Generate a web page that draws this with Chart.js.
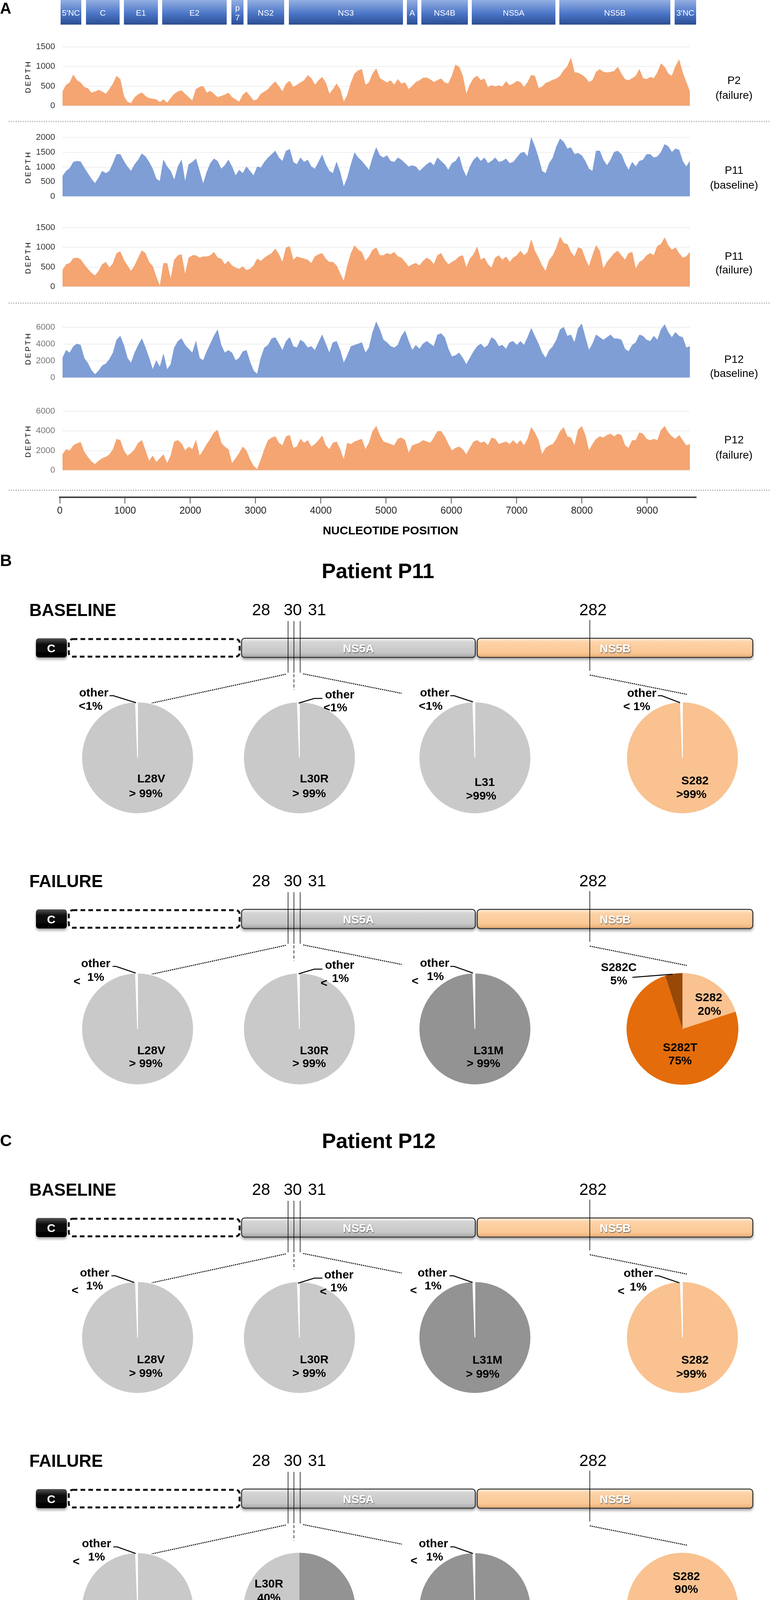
<!DOCTYPE html>
<html>
<head>
<meta charset="utf-8">
<script src="https://cdn.jsdelivr.net/npm/chart.js@4.4.1/dist/chart.umd.min.js"></script>
<style>
  html, body { margin: 0; padding: 0; background: #fff; }
  #page { position: relative; width: 1970px; height: 5124px; overflow: hidden; }
  #page canvas { position: absolute; }
  #overlay { position: absolute; left: 0; top: 0; z-index: 2; font-family: "Liberation Sans", Arial, sans-serif; }
</style>
</head>
<body>
<div id="page">
  <svg id="overlay" width="1970" height="5124" xmlns="http://www.w3.org/2000/svg"></svg>
</div>
<script>
// ---------- coverage data (nucleotide position -> read depth) ----------
const positions = [
  40,95,150,205,260,315,370,425,480,535,
  590,645,700,755,810,865,920,975,1030,1085,
  1140,1195,1250,1305,1360,1415,1470,1525,1580,1635,
  1690,1745,1800,1855,1910,1965,2020,2075,2130,2185,
  2240,2295,2350,2405,2460,2515,2570,2625,2680,2735,
  2790,2845,2900,2955,3010,3065,3120,3175,3230,3285,
  3340,3395,3450,3505,3560,3615,3670,3725,3780,3835,
  3890,3945,4000,4055,4110,4165,4220,4275,4330,4385,
  4440,4495,4550,4605,4660,4715,4770,4825,4880,4935,
  4990,5045,5100,5155,5210,5265,5320,5375,5430,5485,
  5540,5595,5650,5705,5760,5815,5870,5925,5980,6035,
  6090,6145,6200,6255,6310,6365,6420,6475,6530,6585,
  6640,6695,6750,6805,6860,6915,6970,7025,7080,7135,
  7190,7245,7300,7355,7410,7465,7520,7575,7630,7685,
  7740,7795,7850,7905,7960,8015,8070,8125,8180,8235,
  8290,8345,8400,8455,8510,8565,8620,8675,8730,8785,
  8840,8895,8950,9005,9060,9115,9170,9225,9280,9335,
  9390,9445,9500,9555,9610
];

const depthP2Failure = [
  360,530,590,790,645,590,475,445,330,360,
  400,360,300,420,560,760,675,245,100,60,
  215,290,335,245,190,175,160,90,160,75,
  190,300,360,390,300,215,130,420,475,500,
  330,375,300,215,245,280,330,215,160,100,
  275,360,245,130,160,300,360,420,530,615,
  500,360,560,630,475,530,590,645,775,700,
  530,645,730,590,300,420,560,420,100,275,
  590,815,900,930,530,590,815,945,700,645,
  590,645,530,675,560,590,420,500,600,645,
  710,715,670,600,650,690,590,560,760,1045,
  990,760,300,540,700,760,650,690,470,520,
  490,515,490,620,520,560,630,600,470,600,
  780,760,450,480,580,610,660,690,760,900,
  1000,1215,850,835,790,720,600,650,860,930,
  860,845,860,880,990,815,675,645,700,760,
  930,700,675,730,700,845,1075,990,815,760,
  1000,1175,845,600,360
];

const depthP11Baseline = [
  690,860,955,1165,1200,1180,975,785,595,440,
  630,860,785,860,1125,1430,1430,1200,1010,860,
  1085,1240,1450,1355,1165,935,595,515,1240,1010,
  860,555,1010,1240,500,1085,1165,1280,860,420,
  820,1125,1280,1200,935,1050,1240,1010,705,895,
  785,1010,860,705,1010,975,1165,1315,1430,1545,
  1315,1200,1545,1600,1165,1085,1315,1165,1240,1010,
  935,1165,1410,1085,860,785,1165,820,325,630,
  1085,1485,1315,1200,1050,895,1315,1660,1390,1315,
  1390,1200,1165,1315,1240,1125,1010,1050,1010,860,
  975,1085,1165,1050,1315,1200,1085,895,1125,1200,
  1370,935,670,1010,1240,1355,1200,1315,1125,1200,
  1315,1165,1200,1280,1125,1165,1315,1470,1505,1355,
  2000,1695,1315,860,785,1125,1315,1695,1960,1850,
  1620,1660,1430,1470,1390,1200,935,860,1545,1545,
  1240,1050,1240,1505,1545,1430,1125,895,1165,1010,
  1200,1240,1430,1430,1315,1355,1505,1770,1695,1505,
  1620,1580,1200,1010,1200
];

const depthP11Failure = [
  420,565,595,720,735,695,565,450,350,280,
  395,565,625,480,595,850,895,680,535,395,
  535,735,920,850,625,520,250,10,595,595,
  195,680,795,820,310,735,795,795,735,765,
  765,795,880,735,710,565,650,535,480,450,
  510,420,450,535,710,650,735,795,850,965,
  820,625,995,1025,680,765,735,710,680,595,
  765,820,850,710,625,625,535,335,135,535,
  850,1050,935,880,650,765,935,995,795,795,
  850,820,880,765,735,625,510,565,595,535,
  650,735,680,565,795,850,680,565,625,680,
  765,795,480,710,820,1010,680,735,565,480,
  735,795,680,765,625,735,795,910,795,880,
  1195,910,735,535,395,680,795,995,1265,1110,
  1080,880,765,995,965,710,510,795,1050,910,
  450,625,735,850,910,795,680,850,880,450,
  625,680,795,850,795,1035,1080,1250,1050,935,
  995,850,735,765,880
];

const depthP12Baseline = [
  2340,3260,2955,3720,4025,3870,2340,1730,890,380,
  810,1425,1655,2190,2955,4485,4945,3870,2340,1730,
  2955,3870,4640,3565,2340,965,2035,1270,2800,965,
  1575,3565,4330,4640,3870,3410,2955,4330,2340,2035,
  3105,4025,4945,5710,3870,2955,3260,2955,2035,2340,
  3105,3260,1880,810,430,2340,3565,3870,4640,4790,
  4025,3260,4330,4790,3720,3565,4485,4180,3565,3720,
  3260,4180,5095,4025,2955,4180,4330,3260,1730,2650,
  3720,3870,4025,4180,2955,3565,5400,6630,5710,4485,
  4180,3720,3565,3870,4945,5555,4330,3260,3870,3410,
  4025,4330,4025,3720,5095,5250,4790,3410,2495,2650,
  2955,2340,1575,2340,3105,3720,4025,3565,3870,4790,
  4485,3720,3870,3410,4180,4330,3870,4330,3870,4790,
  5860,4945,4025,2955,2340,3260,3720,4485,5710,6015,
  4945,5095,4180,5860,6400,4790,3260,4025,5095,4790,
  4485,4790,5095,4640,4640,4485,3410,3105,3870,4180,
  5095,4945,4485,4330,4945,4485,5710,6320,5400,4790,
  5400,4945,4790,3565,3720
];

const depthP12Failure = [
  1600,2125,1995,2520,2720,2850,1865,1340,880,615,
  945,1210,1340,1600,2125,3180,3045,1995,1470,1735,
  2125,2785,3045,1995,945,1470,815,1210,1600,685,
  1470,2915,3045,2720,1995,2390,2125,3045,1470,1995,
  2650,3180,3835,4095,2785,2390,2125,685,1210,1735,
  2390,1995,1075,420,90,1075,2125,3045,3310,3440,
  2785,2520,3440,3570,2260,2390,3180,2785,3045,2390,
  2650,3045,3505,2520,2125,2785,2915,2125,1075,2785,
  2650,2915,3045,3180,2125,2785,3965,4490,3570,2915,
  2785,2650,2520,3180,3310,3045,1735,2520,2650,2785,
  3045,2915,2785,3310,3965,3965,3440,2650,1995,2260,
  2390,2125,1600,2260,2915,3045,2785,2915,2520,3310,
  3180,2650,2785,2915,2650,3045,2650,3045,2520,3180,
  4360,3835,3045,1600,2260,2520,2650,3180,3965,4360,
  3440,3310,2520,4095,4490,3570,1995,2650,3180,3440,
  3310,3570,3705,3440,3705,3570,2520,2260,3045,3045,
  3835,3705,3180,3045,3180,3045,4095,4490,3835,3440,
  3180,3570,3045,2520,2650
];

// y ranges and tick labels of the five coverage plots
const yMaxes = [1500, 2000, 1500, 7000, 6000];
const yTicksP2 = [0, 500, 1000, 1500];
const yTicksP11Base = [0, 500, 1000, 1500, 2000];
const yTicksP11Fail = [0, 500, 1000, 1500];
const yTicksP12 = [0, 2000, 4000, 6000];
const axisTicks = [0, 1000, 2000, 3000, 4000, 5000, 6000, 7000, 8000, 9000];

// ---------- variant frequencies (percent) ----------
// [major, other]
const p11Base28 = [99.4, 0.6];
const p11Base30 = [99.4, 0.6];
const p11Base31 = [99.4, 0.6];
const p11Base282 = [99.4, 0.6];
const p11Fail28 = [99.4, 0.6];
const p11Fail30 = [99.4, 0.6];
const p11Fail31 = [99.4, 0.6];
const p11Fail282 = [20, 75, 5];      // S282, S282T, S282C
const p12Base28 = [99.4, 0.6];
const p12Base30 = [99.4, 0.6];
const p12Base31 = [99.4, 0.6];
const p12Base282 = [99.4, 0.6];
const p12Fail28 = [99.4, 0.6];
const p12Fail30 = [60, 40];          // L30S, L30R
const p12Fail31 = [99.4, 0.6];
const p12Fail282 = [90, 5, 5];       // S282, S282T, S282C
const p2Fail28 = [99.4, 0.6];
const p2Fail30 = [99.4, 0.6];
const p2Fail31 = [79, 21];           // L31M, L31
const p2Fail282 = [56, 44];          // S282, S282T

// ---------- styling ----------
const ORANGE_AREA = '#F4A572';
const BLUE_AREA = '#7F9ED6';
const LIGHT = '#c9c9c9', DARK = '#939393', MID = '#b5b5b5';
const PEACH = '#f9c290', ORANGE = '#e46c0a', BROWN = '#984807', WHITE = '#ffffff';
const FONT = '"Liberation Sans", Arial, Helvetica, sans-serif';
Chart.defaults.font.family = FONT;

const page = document.getElementById('page');

function makeCanvas(left, top, w, h) {
  const c = document.createElement('canvas');
  c.width = w; c.height = h;
  c.style.left = left + 'px'; c.style.top = top + 'px';
  c.style.width = w + 'px'; c.style.height = h + 'px';
  page.insertBefore(c, page.firstChild);
  return c;
}

// ---------- coverage area charts ----------
const areaCharts = [
  { top: 108, values: depthP2Failure, ticks: yTicksP2, color: ORANGE_AREA, tick: '#333' },
  { top: 340, values: depthP11Baseline, ticks: yTicksP11Base, color: BLUE_AREA, tick: '#333' },
  { top: 571, values: depthP11Failure, ticks: yTicksP11Fail, color: ORANGE_AREA, tick: '#333' },
  { top: 804, values: depthP12Baseline, ticks: yTicksP12, color: BLUE_AREA, tick: '#777' },
  { top: 1041, values: depthP12Failure, ticks: yTicksP12, color: ORANGE_AREA, tick: '#777' }
];

areaCharts.forEach((a, i) => {
  const c = makeCanvas(0, a.top - 20, 1765, 215);
  new Chart(c, {
    type: 'line',
    data: {
      datasets: [{
        data: positions.map((p, j) => ({ x: p, y: a.values[j] })),
        fill: 'origin',
        backgroundColor: a.color,
        borderColor: a.color,
        borderWidth: 1,
        pointRadius: 0,
        tension: 0
      }]
    },
    options: {
      responsive: false, animation: false, events: [], devicePixelRatio: 1,
      layout: { padding: { top: 20, bottom: 20, left: 0, right: 0 } },
      plugins: { legend: { display: false }, tooltip: { enabled: false } },
      scales: {
        x: { type: 'linear', min: positions[0], max: positions[positions.length - 1], display: false },
        y: {
          min: 0, max: yMaxes[i],
          afterBuildTicks: s => { s.ticks = a.ticks.map(v => ({ value: v })); },
          ticks: { padding: 19, color: a.tick, font: { size: 22 }, callback: v => String(v) },
          grid: { color: '#eeeeee', lineWidth: 2, drawTicks: false },
          border: { display: false },
          afterFit: s => { s.width = 160; }
        }
      }
    }
  });
});

// shared nucleotide axis
{
  const c = makeCanvas(0, 1253, 1801, 100);
  new Chart(c, {
    type: 'scatter',
    data: { datasets: [{ data: [] }] },
    options: {
      responsive: false, animation: false, events: [], devicePixelRatio: 1,
      layout: { padding: { left: 153, right: 20, top: 0, bottom: 0 } },
      plugins: { legend: { display: false }, tooltip: { enabled: false } },
      scales: {
        y: { display: false },
        x: {
          type: 'linear', min: 0, max: 9750,
          afterBuildTicks: s => { s.ticks = axisTicks.map(v => ({ value: v })); },
          ticks: { padding: 4, color: '#222', font: { size: 25 }, callback: v => String(v) },
          grid: { drawOnChartArea: false, drawTicks: true, tickLength: 16, tickColor: '#555', tickWidth: 2 },
          border: { display: true, color: '#444', width: 4 },
          afterFit: s => { s.height = 80; }
        }
      }
    }
  });
}

// ---------- pies ----------
const PIE_X = [352, 766, 1215, 1746];
const ROWS = [
  { R: 1545, label: 'BASELINE', pies: [
    [p11Base28, [LIGHT, WHITE]], [p11Base30, [LIGHT, WHITE]], [p11Base31, [LIGHT, WHITE]], [p11Base282, [PEACH, WHITE]] ] },
  { R: 2239, label: 'FAILURE', pies: [
    [p11Fail28, [LIGHT, WHITE]], [p11Fail30, [LIGHT, WHITE]], [p11Fail31, [DARK, WHITE]], [p11Fail282, [PEACH, ORANGE, BROWN]] ] },
  { R: 3029, label: 'BASELINE', pies: [
    [p12Base28, [LIGHT, WHITE]], [p12Base30, [LIGHT, WHITE]], [p12Base31, [DARK, WHITE]], [p12Base282, [PEACH, WHITE]] ] },
  { R: 3723, label: 'FAILURE', pies: [
    [p12Fail28, [LIGHT, WHITE]], [p12Fail30, [DARK, LIGHT]], [p12Fail31, [DARK, WHITE]], [p12Fail282, [PEACH, ORANGE, BROWN], 198] ] },
  { R: 4585, label: 'FAILURE', pies: [
    [p2Fail28, [LIGHT, WHITE]], [p2Fail30, [LIGHT, WHITE]], [p2Fail31, [MID, LIGHT]], [p2Fail282, [PEACH, ORANGE], 170] ] }
];

ROWS.forEach(row => {
  const cy = row.R + 395;
  row.pies.forEach(([vals, colors, rot], k) => {
    const c = makeCanvas(PIE_X[k] - 145, cy - 145, 290, 290);
    new Chart(c, {
      type: 'pie',
      data: { datasets: [{
        data: vals,
        backgroundColor: colors,
        borderColor: '#ffffff',
        borderWidth: colors.map(col => col === WHITE ? 2 : 0)
      }] },
      options: {
        responsive: false, animation: false, events: [], devicePixelRatio: 1,
        rotation: rot || 0,
        layout: { padding: 2 },
        plugins: { legend: { display: false }, tooltip: { enabled: false } }
      }
    });
  });
});

// ---------- overlay (diagram, labels) ----------
const NS = 'http://www.w3.org/2000/svg';
const svg = document.getElementById('overlay');
svg.innerHTML = `
<defs>
  <linearGradient id="gBlue" x1="0" y1="0" x2="0" y2="1">
    <stop offset="0" stop-color="#94afe2"/><stop offset="0.55" stop-color="#4c76c8"/><stop offset="1" stop-color="#2c4e92"/>
  </linearGradient>
  <linearGradient id="gBlack" x1="0" y1="0" x2="0" y2="1">
    <stop offset="0" stop-color="#555"/><stop offset="0.3" stop-color="#111"/><stop offset="1" stop-color="#000"/>
  </linearGradient>
  <linearGradient id="gGray" x1="0" y1="0" x2="0" y2="1">
    <stop offset="0" stop-color="#f8f8f8"/><stop offset="0.2" stop-color="#d4d4d4"/><stop offset="0.75" stop-color="#c7c7c7"/><stop offset="1" stop-color="#a4a4a4"/>
  </linearGradient>
  <linearGradient id="gOrange" x1="0" y1="0" x2="0" y2="1">
    <stop offset="0" stop-color="#fff1e0"/><stop offset="0.2" stop-color="#fdd3a8"/><stop offset="0.75" stop-color="#fbc894"/><stop offset="1" stop-color="#e6ab76"/>
  </linearGradient>
  <filter id="shadow" x="-5%" y="-30%" width="110%" height="180%">
    <feDropShadow dx="0" dy="5" stdDeviation="3" flood-color="#000" flood-opacity="0.35"/>
  </filter>
  <filter id="tshadow" x="-10%" y="-20%" width="130%" height="150%">
    <feDropShadow dx="1" dy="2" stdDeviation="1" flood-color="#444" flood-opacity="0.8"/>
  </filter>
</defs>`;

function el(tag, attrs) {
  const e = document.createElementNS(NS, tag);
  for (const k in attrs) e.setAttribute(k, attrs[k]);
  svg.appendChild(e);
  return e;
}
function text(x, y, s, size, bold, anchor, fill, extra) {
  const t = el('text', Object.assign({
    x, y, 'font-size': size, 'font-weight': bold ? 'bold' : 'normal',
    'text-anchor': anchor || 'middle', 'dominant-baseline': 'central', fill: fill || '#000'
  }, extra || {}));
  t.textContent = s;
  return t;
}
function line(x1, y1, x2, y2, w, dash) {
  const a = { x1, y1, x2, y2, stroke: '#000', 'stroke-width': w };
  if (dash) a['stroke-dasharray'] = dash;
  return el('line', a);
}
function poly(pts, w) {
  return el('polyline', { points: pts.map(p => p.join(',')).join(' '), fill: 'none', stroke: '#000', 'stroke-width': w });
}

// panel A genome map
const SEGMENTS = [
  ["5'NC", 155, 208], ['C', 220, 306], ['E1', 317, 404], ['E2', 415, 580], ['p7', 592, 623],
  ['NS2', 633, 727], ['NS3', 739, 1031], ['A', 1041, 1068], ['NS4B', 1078, 1197],
  ['NS5A', 1207, 1421], ['NS5B', 1431, 1715], ["3'NC", 1726, 1781]
];
SEGMENTS.forEach(([name, x0, x1]) => {
  el('rect', { x: x0, y: 0, width: x1 - x0, height: 63, fill: 'url(#gBlue)' });
  const cx = (x0 + x1) / 2;
  if (name === 'p7') {
    text(cx, 19, 'p', 21, false, 'middle', '#fff');
    text(cx, 44, '7', 21, false, 'middle', '#fff');
  } else {
    text(cx, 32, name, 21, false, 'middle', '#fff');
  }
});
text(0, 21, 'A', 40, true, 'start');

// depth axis titles and sample names
const SAMPLE_LABELS = [
  ['P2', '(failure)', 205, 243], ['P11', '(baseline)', 435, 473], ['P11', '(failure)', 655, 690],
  ['P12', '(baseline)', 919, 955], ['P12', '(failure)', 1125, 1164]
];
areaCharts.forEach((a, i) => {
  text(0, 0, 'DEPTH', 19, false, 'middle', '#000',
    { transform: `translate(71,${a.top + 88}) rotate(-90)`, 'letter-spacing': 4 });
  const [n, s, y1, y2] = SAMPLE_LABELS[i];
  text(1878, y1, n, 28, false);
  text(1878, y2, s, 28, false);
});

// dotted separators
[311, 776, 1255].forEach(y => {
  el('line', { x1: 22, y1: y, x2: 1970, y2: y, stroke: '#b5b5b5', 'stroke-width': 3, 'stroke-dasharray': '3 3' });
});
text(999, 1357, 'NUCLEOTIDE POSITION', 30, true);

// section titles
text(0, 1434, 'B', 42, true, 'start');
text(967, 1461, 'Patient P11', 54, true);
text(0, 2919, 'C', 42, true, 'start');
text(969, 2920, 'Patient P12', 54, true);
text(0, 4474, 'D', 42, true, 'start');
text(972, 4473, 'Patient P2', 54, true);

// protein diagrams
ROWS.forEach(({ R, label }) => {
  text(75, R + 16, label, 44, true, 'start');
  text(668, R + 15, '28', 42, false);
  text(749, R + 15, '30', 42, false);
  text(811, R + 15, '31', 42, false);
  text(1517, R + 15, '282', 42, false);

  el('rect', { x: 92, y: R + 89, width: 79, height: 49, rx: 7, fill: 'url(#gBlack)', filter: 'url(#shadow)' });
  text(131, R + 114, 'C', 30, true, 'middle', '#fff');
  el('rect', { x: 176, y: R + 91, width: 437, height: 45, rx: 10, fill: '#fff', stroke: '#111', 'stroke-width': 5, 'stroke-dasharray': '12 8' });
  el('rect', { x: 618, y: R + 89, width: 598, height: 49, rx: 8, fill: 'url(#gGray)', stroke: '#333', 'stroke-width': 2.5, filter: 'url(#shadow)' });
  text(917, R + 114, 'NS5A', 30, true, 'middle', '#fff', { filter: 'url(#tshadow)' });
  el('rect', { x: 1221, y: R + 89, width: 705, height: 49, rx: 8, fill: 'url(#gOrange)', stroke: '#333', 'stroke-width': 2.5, filter: 'url(#shadow)' });
  text(1574, R + 114, 'NS5B', 30, true, 'middle', '#fff', { filter: 'url(#tshadow)' });

  [737, 752, 768].forEach(x => line(x, R + 45, x, R + 177, 1.5));
  line(1509, R + 42, 1509, R + 172, 1.5);

  line(731, R + 181, 388, R + 255, 2.5, '3 2');
  line(752, R + 181, 752, R + 221, 1.5, '8 5');
  line(776, R + 180, 1028, R + 230, 2.5, '3 2');
  line(1509, R + 183, 1759, R + 233, 2.5, '3 2');
});

// pie annotations
const PIE_TEXT = [
  [387,1992,'L28V'],[373,2030,'> 99%'],[240,1772,'other'],[232,1806,'<1%'],
  [804,1992,'L30R'],[791,2030,'> 99%'],[869,1777,'other'],[858,1810,'<1%'],
  [1240,2001,'L31'],[1231,2036,'>99%'],[1112,1772,'other'],[1102,1806,'<1%'],
  [1778,1997,'S282'],[1769,2032,'>99%'],[1642,1773,'other'],[1629,1807,'< 1%'],

  [245,2465,'other'],[197,2511,'<'],[245,2500,'1%'],[387,2688,'L28V'],[373,2721,'> 99%'],
  [869,2469,'other'],[829,2515,'<'],[871,2503,'1%'],[804,2688,'L30R'],[791,2721,'> 99%'],
  [1112,2464,'other'],[1062,2510,'<'],[1114,2498,'1%'],[1250,2688,'L31M'],[1237,2721,'> 99%'],
  [1583,2475,'S282C'],[1583,2509,'5%'],[1813,2552,'S282'],[1815,2587,'20%'],[1740,2680,'S282T'],[1740,2714,'75%'],

  [242,3257,'other'],[192,3302,'<'],[242,3290,'1%'],[386,3479,'L28V'],[373,3514,'> 99%'],
  [867,3262,'other'],[827,3305,'<'],[867,3295,'1%'],[804,3479,'L30R'],[791,3514,'> 99%'],
  [1106,3257,'other'],[1058,3302,'<'],[1108,3290,'1%'],[1247,3480,'L31M'],[1235,3516,'> 99%'],
  [1633,3258,'other'],[1589,3304,'<'],[1633,3293,'1%'],[1778,3480,'S282'],[1769,3516,'>99%'],

  [247,3950,'other'],[195,3996,'<'],[247,3984,'1%'],[386,4172,'L28V'],[373,4206,'>99%'],
  [688,4053,'L30R'],[688,4089,'40%'],[835,4148,'L30S'],[835,4183,'60%'],
  [1109,3950,'other'],[1059,3994,'<'],[1112,3984,'1%'],[1250,4174,'L31M'],[1237,4208,'> 99%'],
  [1756,4034,'S282'],[1756,4067,'90%'],[1598,4250,'S282C'],[1598,4283,'5%'],[1928,4250,'S282T'],[1928,4283,'5%'],

  [228,4814,'other'],[217,4854,'<1%'],[381,5031,'L28V'],[368,5071,'>99%'],
  [867,4818,'other'],[867,4858,'1%'],[779,5039,'L30R'],[779,5079,'>99%'],
  [1059,4856,'<'],[1166,4886,'L31'],[1166,4927,'21%'],[1266,5021,'L31M'],[1266,5062,'79%'],
  [1541,4958,'S282'],[1541,4995,'56%'],[1928,4970,'S282T'],[1932,5005,'44%']
];
PIE_TEXT.forEach(([x, y, s]) => text(x, y, s, 30, true));

const LEADERS = [
  [[280,1781],[290,1781],[348,1799]], [[764,1800],[804,1788],[825,1788]],
  [[1152,1781],[1162,1781],[1210,1797]], [[1683,1781],[1693,1781],[1740,1799]],
  [[288,2474],[297,2474],[347,2491]], [[764,2493],[804,2481],[825,2481]],
  [[1152,2474],[1162,2474],[1210,2491]], [[1618,2502],[1721,2494]],
  [[285,3266],[295,3266],[343,3283]], [[762,3285],[804,3272],[825,3272]],
  [[1150,3266],[1160,3266],[1209,3283]], [[1675,3266],[1685,3266],[1738,3284]],
  [[290,3960],[300,3960],[347,3977]], [[1152,3960],[1162,3960],[1210,3977]],
  [[1642,4269],[1721,4261],[1740,4262]], [[1765,4261],[1881,4269]],
  [[266,4822],[276,4822],[342,4837]], [[762,4837],[804,4827],[825,4827]],
  [[1575,4965],[1585,4965],[1598,4976]]
];
LEADERS.forEach(p => poly(p, 2.5));
</script>
</body>
</html>
